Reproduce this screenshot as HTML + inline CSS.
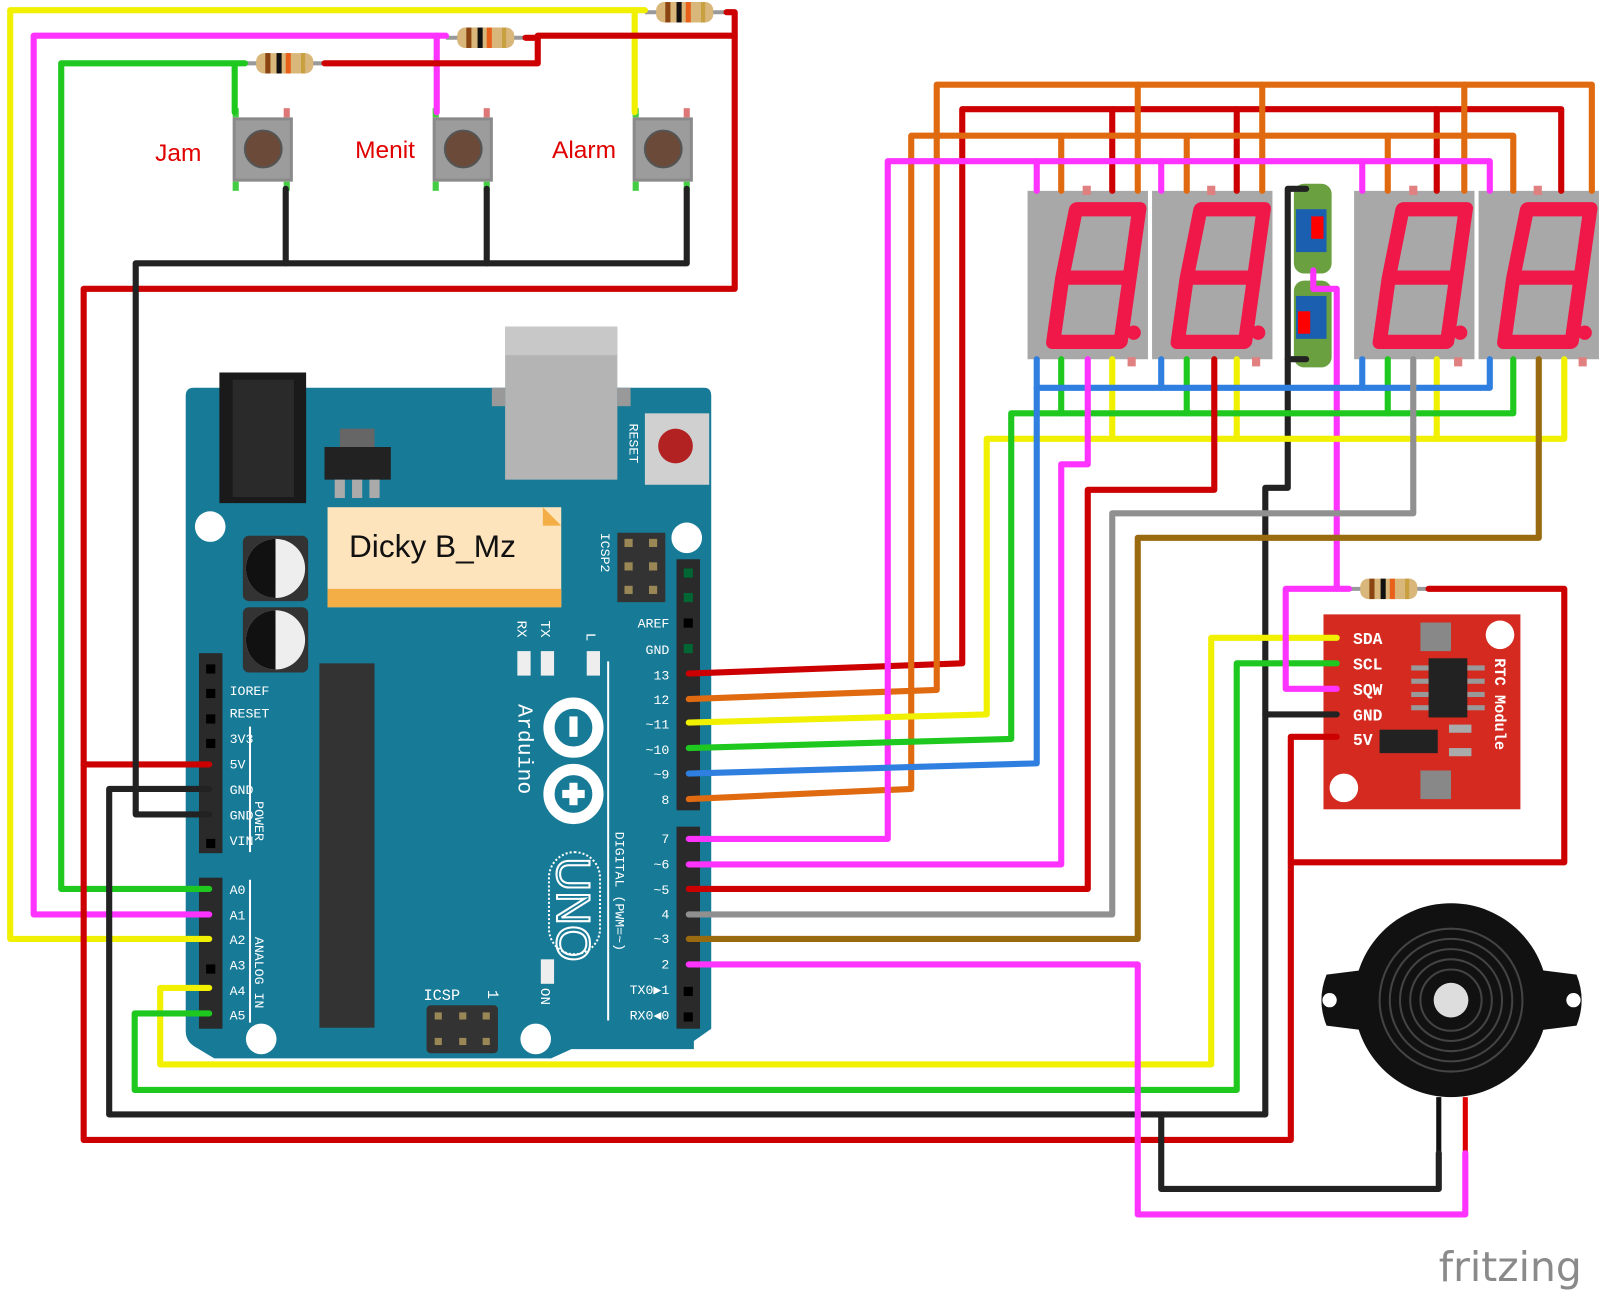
<!DOCTYPE html>
<html><head><meta charset="utf-8"><style>
html,body{margin:0;padding:0;background:#fff;}
svg{display:block;}
text{font-family:"Liberation Mono","DejaVu Sans Mono",monospace;}
</style></head><body>
<svg width="1600" height="1291" viewBox="0 0 1568 1265" preserveAspectRatio="none" xmlns="http://www.w3.org/2000/svg">
<defs>
<g id="seg">
  <rect x="0" y="0" width="118" height="165" fill="#a8a8a8"/>
  <g transform="translate(12,0) skewX(-8)">
    <path d="M38 18 H100 V85 H34 Z M34 85 H100 V148 H34 Z" fill="none" stroke="#f01848" stroke-width="14" stroke-linejoin="round"/>
  </g>
  <circle cx="104" cy="139" r="7" fill="#f01848"/>
  <rect x="54" y="-5" width="8" height="9" fill="#e08080"/>
  <rect x="98" y="163" width="8" height="9" fill="#e08080"/>
</g>
<g id="btn">
  <rect x="0" y="0" width="59" height="63" fill="#8a8a8a"/>
  <rect x="3" y="3" width="53" height="57" fill="#9c9c9c"/>
  <circle cx="30" cy="31" r="18" fill="#6b4a3a" stroke="#555" stroke-width="2"/>
  <rect x="0" y="-9" width="6" height="9" fill="#4c4"/>
  <rect x="50" y="-9" width="6" height="9" fill="#d77"/>
  <rect x="0" y="63" width="6" height="9" fill="#4c4"/>
  <rect x="50" y="63" width="6" height="9" fill="#4c4"/>
</g>
<g id="res">
  <line x1="-8" y1="0" x2="70" y2="0" stroke="#999" stroke-width="4"/>
  <rect x="3" y="-10" width="56" height="20" rx="8" fill="#d9b77a"/>
  <rect x="12" y="-10" width="5" height="20" fill="#8b4513"/>
  <rect x="23" y="-10" width="5" height="20" fill="#111"/>
  <rect x="32" y="-10" width="5" height="20" fill="#e8601a"/>
  <rect x="47" y="-10" width="4" height="20" fill="#c8a040"/>
</g>
</defs>

<!-- Arduino board -->
<path d="M190 380 H690 Q697 380 697 388 V1008 L680 1020 V1028 L560 1028 L540 1037 H210 L190 1025 Q182 1020 182 1010 V388 Q182 380 190 380 Z" fill="#177a97"/>
<rect x="215" y="365" width="85" height="128" fill="#1a1a1a"/>
<rect x="228" y="372" width="60" height="115" fill="#2a2a2a"/>
<rect x="495" y="320" width="110" height="150" fill="#b4b4b4"/>
<rect x="495" y="320" width="110" height="28" fill="#c8c8c8"/>
<rect x="482" y="380" width="13" height="18" fill="#999"/>
<rect x="605" y="380" width="13" height="18" fill="#999"/>
<rect x="632" y="405" width="63" height="70" fill="#d0d0d0"/>
<circle cx="662" cy="437" r="17" fill="#b22222"/>
<text x="0" y="0" font-size="13" fill="#fff" transform="translate(617,415) rotate(90)">RESET</text>
<rect x="333" y="420" width="34" height="18" fill="#666"/>
<rect x="318" y="438" width="65" height="32" fill="#222"/>
<rect x="328" y="470" width="10" height="18" fill="#aaa"/><rect x="345" y="470" width="10" height="18" fill="#aaa"/><rect x="362" y="470" width="10" height="18" fill="#aaa"/>
<rect x="321" y="497" width="229" height="98" fill="#fde4bd"/>
<rect x="321" y="577" width="229" height="18" fill="#f3ae45"/>
<path d="M532 497 L550 515 H532 Z" fill="#f3ae45"/>
<text x="342" y="546" style="font-family:'Liberation Sans',sans-serif" font-size="31" fill="#111">Dicky B_Mz</text>
<circle cx="206" cy="516" r="15" fill="#fff"/>
<circle cx="673" cy="527" r="15" fill="#fff"/>
<circle cx="256" cy="1018" r="15" fill="#fff"/>
<circle cx="525" cy="1018" r="15" fill="#fff"/>
<g><rect x="238" y="525" width="64" height="64" rx="6" fill="#333"/><circle cx="270" cy="557" r="29" fill="#eee"/><path d="M270 528 A29 29 0 0 0 270 586 Z" fill="#111"/></g>
<g><rect x="238" y="595" width="64" height="64" rx="6" fill="#333"/><circle cx="270" cy="627" r="29" fill="#eee"/><path d="M270 598 A29 29 0 0 0 270 656 Z" fill="#111"/></g>
<rect x="313" y="650" width="54" height="357" fill="#333"/>
<rect x="605" y="522" width="47" height="68" fill="#333"/>
<g fill="#998855"><rect x="612" y="528" width="8" height="8"/><rect x="636" y="528" width="8" height="8"/><rect x="612" y="551" width="8" height="8"/><rect x="636" y="551" width="8" height="8"/><rect x="612" y="574" width="8" height="8"/><rect x="636" y="574" width="8" height="8"/></g>
<text x="0" y="0" font-size="13" fill="#fff" transform="translate(589,522) rotate(90)">ICSP2</text>
<rect x="418" y="985" width="70" height="47" rx="4" fill="#333"/>
<g fill="#998855"><rect x="426" y="992" width="7" height="7"/><rect x="450" y="992" width="7" height="7"/><rect x="473" y="992" width="7" height="7"/><rect x="426" y="1017" width="7" height="7"/><rect x="450" y="1017" width="7" height="7"/><rect x="473" y="1017" width="7" height="7"/></g>
<text x="415" y="980" font-size="15" fill="#fff">ICSP</text>
<text x="0" y="0" font-size="15" fill="#fff" transform="translate(478,970) rotate(90)">1</text>
<rect x="507" y="638" width="13" height="24" fill="#eee"/><rect x="530" y="638" width="13" height="24" fill="#eee"/><rect x="575" y="638" width="13" height="24" fill="#eee"/>
<rect x="530" y="940" width="13" height="24" fill="#eee"/>
<text font-size="14" fill="#fff" transform="translate(507,608) rotate(90)">RX</text>
<text font-size="14" fill="#fff" transform="translate(530,608) rotate(90)">TX</text>
<text font-size="14" fill="#fff" transform="translate(575,620) rotate(90)">L</text>
<text font-size="14" fill="#fff" transform="translate(530,968) rotate(90)">ON</text>
<line x1="596" y1="648" x2="596" y2="1000" stroke="#fff" stroke-width="2"/>
<text font-size="21" fill="#fff" transform="translate(508,690) rotate(90)">Arduino</text>
<g fill="none" stroke="#fff" stroke-width="11"><circle cx="562" cy="713" r="24"/><circle cx="562" cy="778" r="24"/></g>
<rect x="558" y="702" width="8" height="20" fill="#fff"/>
<rect x="558" y="767" width="8" height="22" fill="#fff"/><rect x="551" y="774" width="22" height="8" fill="#fff"/>
<rect x="538" y="835" width="50" height="100" rx="25" fill="none" stroke="#fff" stroke-width="2" stroke-dasharray="2 2"/>
<text font-size="46" fill="none" stroke="#fff" stroke-width="2" style="font-family:'Liberation Sans',sans-serif" transform="translate(546,840) rotate(90)">UNO</text>
<text font-size="13" fill="#fff" transform="translate(603,815) rotate(90)">DIGITAL (PWM=~)</text>
<rect x="195" y="640" width="23" height="196" fill="#2a2a2a"/>
<rect x="195" y="860" width="23" height="148" fill="#2a2a2a"/>
<rect x="663" y="548" width="23" height="246" fill="#2a2a2a"/>
<rect x="663" y="810" width="23" height="198" fill="#2a2a2a"/>
<g fill="#000">
<rect x="202" y="651" width="9" height="9"/><rect x="202" y="675" width="9" height="9"/><rect x="202" y="700" width="9" height="9"/><rect x="202" y="724" width="9" height="9"/><rect x="202" y="822" width="9" height="9"/><rect x="202" y="945" width="9" height="9"/>
<rect x="670" y="606" width="9" height="9"/><rect x="670" y="967" width="9" height="9"/><rect x="670" y="992" width="9" height="9"/>
</g>
<g fill="#063"><rect x="670" y="557" width="9" height="9"/><rect x="670" y="581" width="9" height="9"/><rect x="670" y="631" width="9" height="9"/></g>
<g font-size="13" fill="#fff">
<text x="225" y="681">IOREF</text><text x="225" y="703">RESET</text><text x="225" y="728">3V3</text><text x="225" y="753">5V</text><text x="225" y="778">GND</text><text x="225" y="803">GND</text><text x="225" y="828">VIN</text>
<text x="225" y="876">A0</text><text x="225" y="901">A1</text><text x="225" y="925">A2</text><text x="225" y="950">A3</text><text x="225" y="975">A4</text><text x="225" y="999">A5</text>
<text x="656" y="615" text-anchor="end">AREF</text><text x="656" y="641" text-anchor="end">GND</text><text x="656" y="666" text-anchor="end">13</text><text x="656" y="690" text-anchor="end">12</text><text x="656" y="714" text-anchor="end">~11</text><text x="656" y="739" text-anchor="end">~10</text><text x="656" y="763" text-anchor="end">~9</text><text x="656" y="788" text-anchor="end">8</text>
<text x="656" y="826" text-anchor="end">7</text><text x="656" y="851" text-anchor="end">~6</text><text x="656" y="876" text-anchor="end">~5</text><text x="656" y="900" text-anchor="end">4</text><text x="656" y="924" text-anchor="end">~3</text><text x="656" y="949" text-anchor="end">2</text><text x="656" y="974" text-anchor="end">TX0▶1</text><text x="656" y="999" text-anchor="end">RX0◀0</text>
</g>
<text font-size="13" fill="#fff" transform="translate(250,785) rotate(90)">POWER</text>
<text font-size="13" fill="#fff" transform="translate(250,918) rotate(90)">ANALOG IN</text>
<line x1="245" y1="712" x2="245" y2="835" stroke="#fff" stroke-width="2"/>
<line x1="245" y1="862" x2="245" y2="1002" stroke="#fff" stroke-width="2"/>

<use href="#btn" x="228" y="115"/><use href="#btn" x="424" y="115"/><use href="#btn" x="620" y="115"/>
<g style="font-family:'Liberation Sans',sans-serif" font-size="24" fill="#e00000">
<text x="152" y="158" style="font-family:'Liberation Sans',sans-serif">Jam</text><text x="348" y="155" style="font-family:'Liberation Sans',sans-serif">Menit</text><text x="541" y="155" style="font-family:'Liberation Sans',sans-serif">Alarm</text>
</g>

<use href="#seg" x="1007" y="187"/><use href="#seg" x="1129" y="187"/><use href="#seg" x="1327" y="187"/><use href="#seg" x="1449" y="187"/>
<rect x="1268" y="180" width="37" height="88" rx="10" fill="#6aa040"/>
<rect x="1270" y="205" width="30" height="42" fill="#1a5fb0"/>
<rect x="1285" y="212" width="12" height="22" fill="#f00"/>
<rect x="1268" y="275" width="37" height="85" rx="10" fill="#6aa040"/>
<rect x="1270" y="290" width="30" height="42" fill="#1a5fb0"/>
<rect x="1272" y="305" width="12" height="22" fill="#f00"/>

<rect x="1297" y="602" width="193" height="191" fill="#d42a20"/>
<rect x="1392" y="610" width="30" height="28" fill="#888"/>
<rect x="1392" y="755" width="30" height="28" fill="#888"/>
<rect x="1400" y="645" width="38" height="58" fill="#222"/>
<g fill="#999"><rect x="1383" y="652" width="17" height="5"/><rect x="1383" y="665" width="17" height="5"/><rect x="1383" y="678" width="17" height="5"/><rect x="1383" y="691" width="17" height="5"/><rect x="1438" y="652" width="17" height="5"/><rect x="1438" y="665" width="17" height="5"/><rect x="1438" y="678" width="17" height="5"/><rect x="1438" y="691" width="17" height="5"/><rect x="1420" y="710" width="22" height="8" fill="#aaa"/><rect x="1420" y="733" width="22" height="8" fill="#aaa"/></g>
<rect x="1352" y="715" width="57" height="23" fill="#222"/>
<circle cx="1470" cy="622" r="14" fill="#fff"/><circle cx="1317" cy="772" r="14" fill="#fff"/>
<g font-size="16" fill="#fff" font-weight="bold"><text x="1326" y="631">SDA</text><text x="1326" y="656">SCL</text><text x="1326" y="681">SQW</text><text x="1326" y="706">GND</text><text x="1326" y="730">5V</text></g>
<text font-size="15" fill="#fff" font-weight="bold" transform="translate(1465,645) rotate(90)">RTC Module</text>

<path d="M1300 955 Q1290 980 1300 1005 L1340 1010 L1340 950 Z" fill="#111"/>
<path d="M1545 955 Q1555 980 1545 1005 L1505 1010 L1505 950 Z" fill="#111"/>
<circle cx="1303" cy="980" r="7" fill="#fff"/><circle cx="1542" cy="980" r="7" fill="#fff"/>
<circle cx="1422" cy="980" r="95" fill="#111"/>
<g fill="none" stroke="#444" stroke-width="2"><circle cx="1422" cy="980" r="70"/><circle cx="1422" cy="980" r="60"/><circle cx="1422" cy="980" r="50"/><circle cx="1422" cy="980" r="40"/><circle cx="1422" cy="980" r="30"/></g>
<circle cx="1422" cy="980" r="17" fill="#ddd"/>
<line x1="1410" y1="1075" x2="1410" y2="1130" stroke="#111" stroke-width="5"/>
<line x1="1436" y1="1075" x2="1436" y2="1130" stroke="#d00" stroke-width="5"/>

<use href="#res" x="640" y="12"/><use href="#res" x="445" y="37"/><use href="#res" x="248" y="62"/><use href="#res" x="1330" y="577"/>

<g fill="none" stroke-width="6" stroke-linejoin="round" stroke-linecap="round">
<polyline stroke="#f0f000" points="205,920 10,920 10,10 622,10 622,110"/>
<polyline stroke="#f0f000" points="622,10 632,10"/>
<polyline stroke="#ff33ff" points="205,896 33,896 33,35 428,35 428,110"/>
<polyline stroke="#ff33ff" points="428,35 437,35"/>
<polyline stroke="#1ec81e" points="205,871 60,871 60,62 230,62 230,110"/>
<polyline stroke="#1ec81e" points="230,62 240,62"/>
<polyline stroke="#cc0000" points="318,62 527,62 527,35 720,35"/>
<polyline stroke="#cc0000" points="515,37 527,37"/>
<polyline stroke="#cc0000" points="712,12 720,12 720,283 82,283 82,1117 1265,1117 1265,722 1310,722"/>
<polyline stroke="#cc0000" points="205,749 82,749"/>
<polyline stroke="#cc0000" points="1400,577 1533,577 1533,845 1265,845"/>
<polyline stroke="#222" points="280,185 280,258"/><polyline stroke="#222" points="477,185 477,258"/>
<polyline stroke="#222" points="673,185 673,258 133,258 133,798 205,798"/>
<polyline stroke="#222" points="205,773 107,773 107,1092 1240,1092 1240,478 1262,478 1262,185 1280,185"/>
<polyline stroke="#222" points="1240,700 1310,700"/>
<polyline stroke="#222" points="1262,352 1280,352"/>
<polyline stroke="#222" points="1138,1092 1138,1165 1410,1165 1410,1130"/>
<polyline stroke="#f0f000" points="1310,625 1187,625 1187,1043 157,1043 157,968 205,968"/>
<polyline stroke="#1ec81e" points="1310,650 1212,650 1212,1068 132,1068 132,993 205,993"/>
<polyline stroke="#ff33ff" points="1310,675 1260,675 1260,577 1310,577 1310,283 1287,283 1287,265"/>
<polyline stroke="#ff33ff" points="1310,577 1322,577"/>
<polyline stroke="#cc0000" points="675,660 943,650 943,107 1530,107 1530,187"/>
<polyline stroke="#cc0000" points="1090,107 1090,187"/><polyline stroke="#cc0000" points="1212,107 1212,187"/><polyline stroke="#cc0000" points="1408,107 1408,187"/>
<polyline stroke="#e06a10" points="675,685 918,676 918,83 1560,83 1560,187"/>
<polyline stroke="#e06a10" points="1115,83 1115,187"/><polyline stroke="#e06a10" points="1237,83 1237,187"/><polyline stroke="#e06a10" points="1435,83 1435,187"/>
<polyline stroke="#e06a10" points="675,783 893,773 893,133 1040,133 1040,187"/>
<polyline stroke="#e06a10" points="1040,133 1163,133 1163,187"/><polyline stroke="#e06a10" points="1163,133 1360,133 1360,187"/><polyline stroke="#e06a10" points="1360,133 1483,133 1483,187"/>
<polyline stroke="#ff33ff" points="675,822 870,822 870,158 1460,158 1460,187"/>
<polyline stroke="#ff33ff" points="1016,158 1016,187"/><polyline stroke="#ff33ff" points="1138,158 1138,187"/><polyline stroke="#ff33ff" points="1335,158 1335,187"/>
<polyline stroke="#f0f000" points="675,708 967,700 967,430 1533,430 1533,352"/>
<polyline stroke="#f0f000" points="1090,430 1090,352"/><polyline stroke="#f0f000" points="1212,430 1212,352"/><polyline stroke="#f0f000" points="1408,430 1408,352"/>
<polyline stroke="#1ec81e" points="675,733 991,724 991,405 1483,405 1483,352"/>
<polyline stroke="#1ec81e" points="1040,405 1040,352"/><polyline stroke="#1ec81e" points="1163,405 1163,352"/><polyline stroke="#1ec81e" points="1360,405 1360,352"/>
<polyline stroke="#2f7fe0" points="675,758 1016,748 1016,380 1460,380 1460,352"/>
<polyline stroke="#2f7fe0" points="1016,352 1016,380"/><polyline stroke="#2f7fe0" points="1138,352 1138,380"/><polyline stroke="#2f7fe0" points="1335,352 1335,380"/>
<polyline stroke="#ff33ff" points="675,847 1040,847 1040,455 1066,455 1066,352"/>
<polyline stroke="#cc0000" points="675,871 1066,871 1066,480 1190,480 1190,352"/>
<polyline stroke="#909090" points="675,896 1090,896 1090,503 1385,503 1385,352"/>
<polyline stroke="#9a6a10" points="675,920 1115,920 1115,527 1508,527 1508,352"/>
<polyline stroke="#ff33ff" points="675,945 1115,945 1115,1190 1436,1190 1436,1130"/>
</g>
<text x="1410" y="1255" style="font-family:'DejaVu Sans','Liberation Sans',sans-serif" font-size="40" fill="#8a8a8a">fritzing</text>
</svg>
</body></html>
